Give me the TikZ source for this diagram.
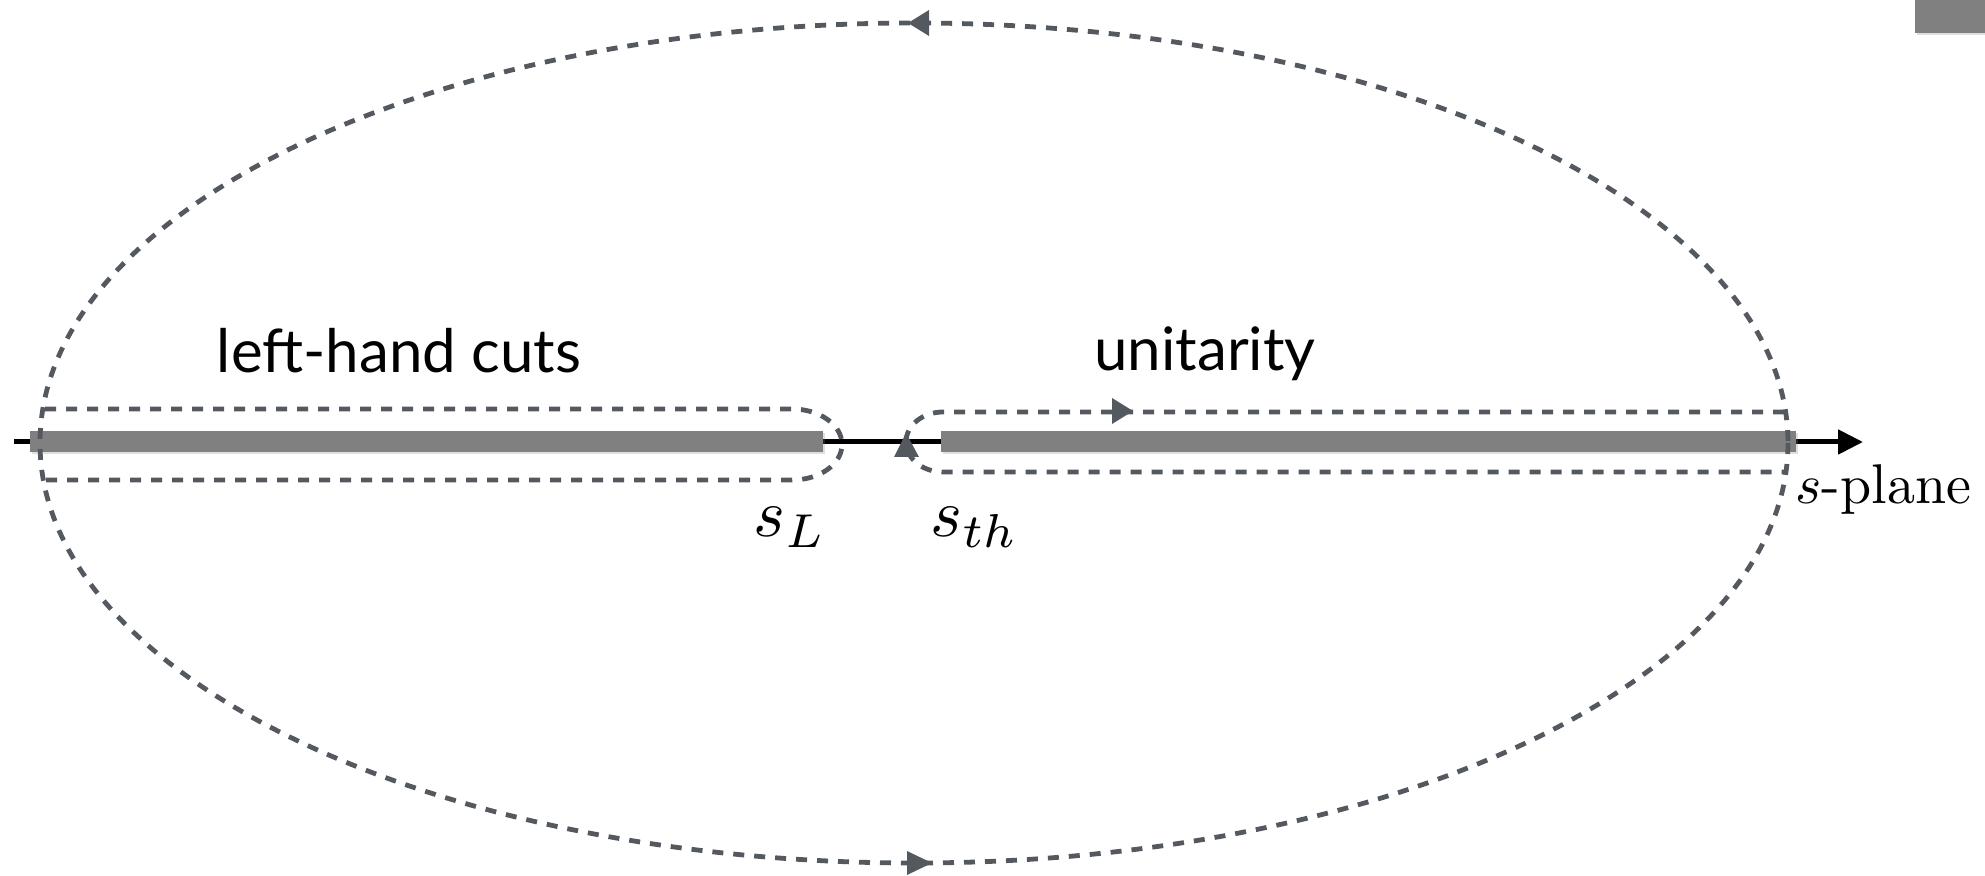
\documentclass[tikz,border=0pt]{standalone}
\usepackage{graphicx}
\usepackage{fontspec}
\newfontfamily\gill{Lato}
\usetikzlibrary{arrows.meta,shadows}
\definecolor{dashc}{RGB}{84,89,96}
\definecolor{barc}{RGB}{128,128,128}
\tikzset{
  contour/.style={draw=dashc, line width=2.4pt, dash pattern=on 5.5pt off 5pt},
  cutbar/.style={fill=barc, drop shadow={opacity=0.25, shadow xshift=0.8pt, shadow yshift=-1.2pt}},
  tri/.style={fill=dashc},
  lbl/.style={font=\gill\fontsize{30}{36}\selectfont, anchor=base, inner sep=0pt},
  mlbl/.style={anchor=base west, inner sep=0pt}
}
\begin{document}
\begin{tikzpicture}[x=0.5pt,y=-0.5pt]
\useasboundingbox (0,0) rectangle (1985,876);
% partial box at top right
\fill[cutbar] (1915,-20) rectangle (2000,33);
% real axis
\draw[line width=2.5pt, -{Triangle[length=12.5pt,width=12pt]}] (14,442) -- (1863,442);
% cuts
\fill[cutbar] (30,431) rectangle (823,452);
\fill[cutbar] (941,431) rectangle (1796,452);
% big contour
\draw[contour] (914,443) ellipse [x radius=874, y radius=420];
% contour around left-hand cuts
\draw[contour] (45,409) -- (792,409) arc[start angle=-90, end angle=90, x radius=50, y radius=35.5] -- (45,480);
% contour around unitarity cut
\draw[contour] (1784,412) -- (943,412) arc[start angle=-90, end angle=-270, x radius=37, y radius=30] -- (1784,472);
% direction marks
\fill[tri] (908,23) -- (929,10) -- (929,36) -- cycle;
\fill[tri] (932,863) -- (907,851) -- (907,875) -- cycle;
\fill[tri] (1133,411) -- (1112,398) -- (1112,424) -- cycle;
\fill[tri] (906,433) -- (919,457) -- (894,457) -- cycle;
% labels
\node[lbl] (lhc) at (399,373) {left-hand cuts};
\node[lbl] (uni) at (1205,371) {unitarity};
\node[mlbl] (sL) at (753,537) {\scalebox{3.4}{$s_L$}};
\node[mlbl] (sth) at (930,537) {\scalebox{3.4}{$s_{th}$}};
\node[mlbl] (sp) at (1795,503) {\scalebox{2.8}{$s$-plane}};
\end{tikzpicture}
\end{document}
